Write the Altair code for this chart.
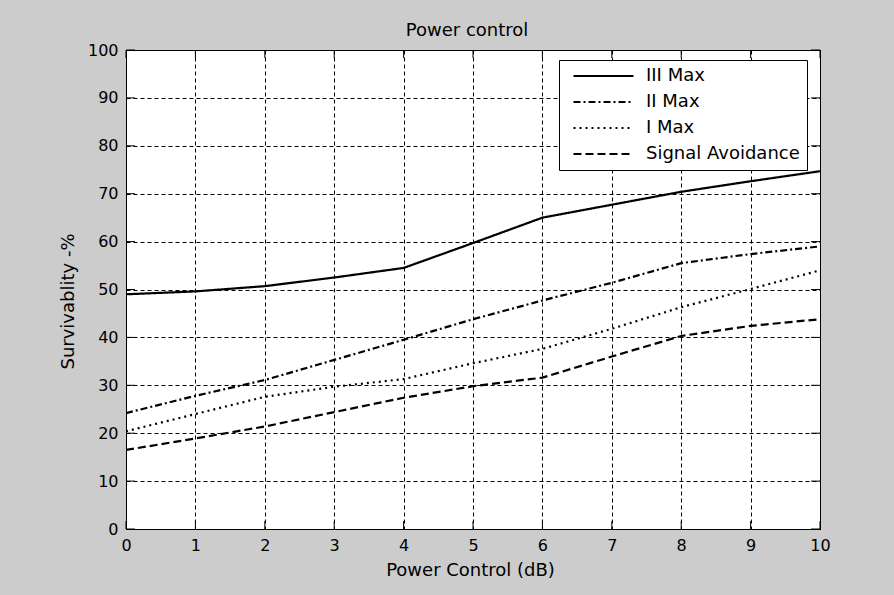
import altair as alt
import pandas as pd

# ---- data ----
power_db = [0, 1, 2, 3, 4, 5, 6, 7, 8, 9, 10]
iii_max = [49.0, 49.6, 50.7, 52.5, 54.5, 59.7, 65.0, 67.7, 70.4, 72.6, 74.7]
ii_max = [24.2, 27.8, 31.1, 35.3, 39.5, 43.8, 47.7, 51.4, 55.5, 57.4, 59.0]
i_max = [20.4, 24.0, 27.6, 29.7, 31.3, 34.6, 37.6, 41.8, 46.3, 50.1, 54.0]
signal_avoid = [16.5, 18.9, 21.4, 24.4, 27.4, 29.8, 31.6, 36.0, 40.3, 42.4, 43.8]

series_names = ["III Max", "II Max", "I Max", "Signal Avoidance"]
series_values = [iii_max, ii_max, i_max, signal_avoid]
dash_styles = [[1, 0], [7, 3, 2, 3], [2, 4], [8, 4]]

x_ticks = list(range(0, 11))
y_ticks = list(range(0, 101, 10))

rows = []
for name, vals in zip(series_names, series_values):
    for x, v in zip(power_db, vals):
        rows.append({"x": x, "value": v, "series": name})
df = pd.DataFrame(rows)
xt = pd.DataFrame({"t": x_ticks})
yt = pd.DataFrame({"t": y_ticks})

W, H = 694, 479
FONT = "DejaVu Sans"

xscale = alt.Scale(domain=[0, 10], nice=False, zero=False)
yscale = alt.Scale(domain=[0, 100], nice=False, zero=False)

lines = alt.Chart(df).mark_line(color="black", strokeWidth=2.2, clip=True).encode(
    x=alt.X("x:Q", scale=xscale,
            axis=alt.Axis(values=x_ticks, title="Power Control (dB)", format="d",
                          titleX=344, titleY=41, titleBaseline="middle")),
    y=alt.Y("value:Q", scale=yscale,
            axis=alt.Axis(values=y_ticks, title="Survivablity -%", format="d",
                          titleAngle=270, titleX=-58, titleY=251,
                          titleAlign="center", titleBaseline="middle")),
    strokeDash=alt.StrokeDash(
        "series:N",
        scale=alt.Scale(domain=series_names, range=dash_styles),
        legend=alt.Legend(
            title=None, orient="none", legendX=433, legendY=10,
            symbolType="stroke", symbolSize=3600, symbolStrokeWidth=2.2,
            symbolStrokeColor="black", symbolOffset=6, clipHeight=18,
            labelFont=FONT, labelFontSize=18, labelColor="black",
            labelOffset=11, rowPadding=8, padding=7,
            strokeColor="black", fillColor="white",
        ),
    ),
    order=alt.Order("x:Q"),
)

tick_bottom = alt.Chart(xt).mark_rule(color="black", strokeWidth=1).encode(
    x=alt.X("t:Q", scale=xscale), y=alt.value(H), y2=alt.value(H - 8))
tick_top = alt.Chart(xt).mark_rule(color="black", strokeWidth=1).encode(
    x=alt.X("t:Q", scale=xscale), y=alt.value(0), y2=alt.value(8))
tick_left = alt.Chart(yt).mark_rule(color="black", strokeWidth=1).encode(
    y=alt.Y("t:Q", scale=yscale), x=alt.value(0), x2=alt.value(9))
tick_right = alt.Chart(yt).mark_rule(color="black", strokeWidth=1).encode(
    y=alt.Y("t:Q", scale=yscale), x=alt.value(W - 9), x2=alt.value(W))

chart = alt.layer(tick_bottom, tick_top, tick_left, tick_right, lines).properties(
    width=W, height=H,
    padding={"left": 126, "top": 50, "right": 74, "bottom": 66},
    autosize=alt.AutoSizeParams(type="none"),
    background="#cccccc",
    title=alt.TitleParams("Power control", font=FONT, fontSize=18,
                          fontWeight="normal", color="black",
                          anchor="middle", frame="group", offset=2, dx=-6),
).configure_view(
    stroke="black", strokeWidth=1, fill="white"
).configure_axis(
    labelFont=FONT, labelFontSize=16, labelColor="black",
    titleFont=FONT, titleFontSize=18, titleFontWeight="normal", titleColor="black",
    domain=True, domainColor="black", domainWidth=1,
    ticks=False, labelPadding=8, labelFlush=False, labelOverlap=False,
    grid=True, gridColor="black", gridDash=[4, 3], gridWidth=1, gridOpacity=1,
)

chart.save("out.html", embed_options={"renderer": "svg", "actions": False})
